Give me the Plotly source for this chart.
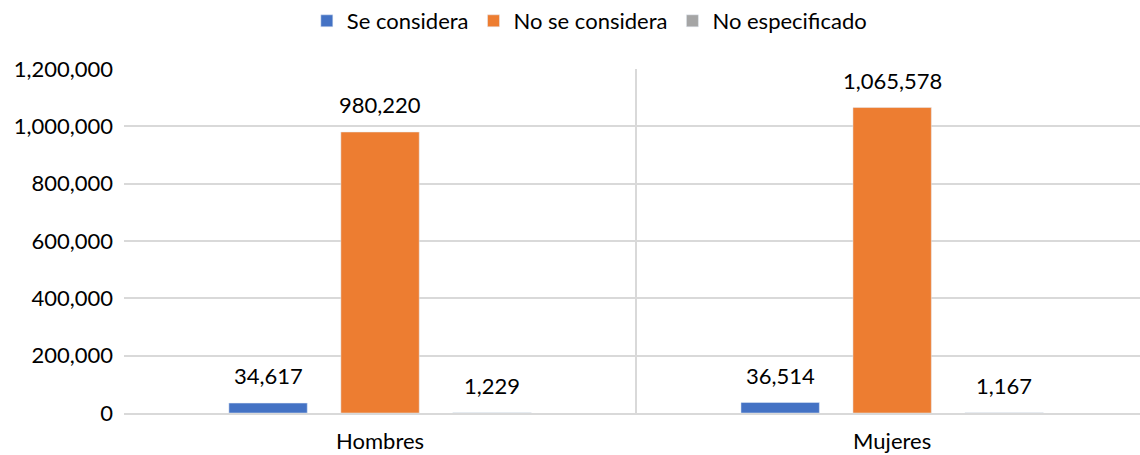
import plotly.graph_objects as go

categories = ["Hombres", "Mujeres"]
series_names = ["Se considera", "No se considera", "No especificado"]
se_considera = [34617, 36514]
no_se_considera = [980220, 1065578]
no_especificado = [1229, 1167]
colors = ["#4472C4", "#ED7D31", "#A5A5A5"]
y_ticks = [0, 200000, 400000, 600000, 800000, 1000000, 1200000]

FONT = "Lato"
FS = 22
W, H = 1140, 455
ML, MR, MT, MB = 124, 0, 69, 42
BARGAP = 0.344
XRANGE = [-0.5, 1.484]

series = [se_considera, no_se_considera, no_especificado]
fig = go.Figure()
for name, vals, col in zip(series_names, series, colors):
    fig.add_trace(go.Bar(
        x=categories, y=vals, name=name, marker_color=col,
        textposition="none",
    ))

# data labels, positioned from the bar group geometry
cat_px = (W - ML - MR) / (XRANGE[1] - XRANGE[0])
step_px = cat_px * (1 - BARGAP) / len(series)
annotations = []
for i, vals in enumerate(series):
    for cat, v in zip(categories, vals):
        annotations.append(dict(
            x=cat, y=v, xref="x", yref="y", text=f"{v:,}", showarrow=False,
            xshift=(i - (len(series) - 1) / 2) * step_px, yshift=12,
            yanchor="bottom", font=dict(size=FS, family=FONT, color="#000000"),
        ))

fig.update_layout(
    width=W, height=H,
    margin=dict(l=ML, r=MR, t=MT, b=MB, autoexpand=False),
    paper_bgcolor="white", plot_bgcolor="white",
    barmode="group", bargap=BARGAP, bargroupgap=0.30,
    font=dict(family=FONT, size=FS, color="#000000"),
    legend=dict(orientation="h", x=0.458, xanchor="center",
                yref="container", y=1.0, yanchor="top",
                font=dict(size=FS), itemwidth=30, traceorder="normal"),
    showlegend=True,
    annotations=annotations,
)
fig.update_xaxes(
    type="category", range=XRANGE, tickson="boundaries",
    showgrid=True, gridcolor="#D9D9D9", gridwidth=2,
    showline=True, linecolor="#D9D9D9", linewidth=2,
    ticks="", tickfont=dict(size=FS), ticklabelstandoff=8,
)
fig.update_yaxes(
    range=[0, 1200000], tickvals=y_ticks, tickformat=",",
    showgrid=True, gridcolor="#D9D9D9", gridwidth=2, zeroline=False,
    ticks="", tickfont=dict(size=FS), ticklabelstandoff=10,
)
fig.write_html("out.html", config={"displayModeBar": False},
               post_script="document.body.style.margin='0';")
